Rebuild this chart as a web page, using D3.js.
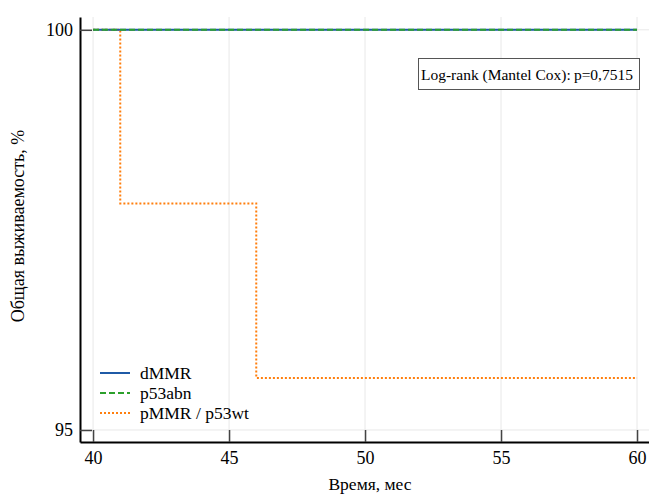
<!DOCTYPE html>
<html><head><meta charset="utf-8">
<script src="https://cdn.jsdelivr.net/npm/d3@7"></script>
<style>body{margin:0;background:#fff}svg{display:block}</style>
</head><body>
<script>
const seriesNames = ["dMMR", "p53abn", "pMMR / p53wt"];
const dmmrTimes = [40, 60], dmmrSurv = [100, 100];
const p53abnTimes = [40, 60], p53abnSurv = [100, 100];
const pmmrTimes = [40, 41, 46, 60], pmmrSurv = [100, 97.83, 95.65, 95.65];
const xTicks = [40, 45, 50, 55, 60];
const yTicks = [95, 100];
const colors = ["#1f5aa6", "#2ca02c", "#ff7f0e"];
const dashes = [null, "6,3", "2,2"];

const W = 649, H = 494;
const svg = d3.select("body").append("svg").attr("width", W).attr("height", H);
const x = d3.scaleLinear().domain([39.52, 60.44]).range([80, 649]);
const y = d3.scaleLinear().domain([94.85, 100.16]).range([442, 17]);
const font = "'Liberation Serif','Times New Roman',serif";

// grid
svg.append("g").selectAll("line").data(xTicks).join("line")
  .attr("x1", d => x(d)).attr("x2", d => x(d)).attr("y1", y.range()[1]).attr("y2", 442)
  .attr("stroke", "#e8e8e8").attr("stroke-width", 1);
svg.append("g").selectAll("line").data(yTicks).join("line")
  .attr("x1", 80).attr("x2", 649).attr("y1", d => y(d)).attr("y2", d => y(d))
  .attr("stroke", "#e8e8e8").attr("stroke-width", 1);

// axes
const xAxis = svg.append("g").attr("transform", "translate(0,442)")
  .call(d3.axisBottom(x).tickValues(xTicks).tickFormat(d3.format("d")).tickSizeInner(-12).tickSizeOuter(0).tickPadding(9));
const yAxis = svg.append("g").attr("transform", "translate(80,0)")
  .call(d3.axisLeft(y).tickValues(yTicks).tickFormat(d3.format("d")).tickSizeInner(-12).tickSizeOuter(0).tickPadding(7));
[xAxis, yAxis].forEach(a => {
  a.select(".domain").attr("stroke", "#000").attr("stroke-width", 2);
  a.selectAll(".tick line").attr("stroke", "#444").attr("stroke-width", 1.5);
  a.selectAll(".tick text").attr("font-family", font).attr("font-size", 18).attr("fill", "#000");
});
xAxis.selectAll(".tick line").attr("y2", -12);

// series
const data = [
  {t: dmmrTimes, s: dmmrSurv},
  {t: p53abnTimes, s: p53abnSurv},
  {t: pmmrTimes, s: pmmrSurv}
];
const line = d3.line().x(d => x(d[0])).y(d => y(d[1])).curve(d3.curveStepAfter);
const order = [2, 0, 1];
order.forEach(i => {
  const pts = data[i].t.map((t, k) => [t, data[i].s[k]]);
  const p = svg.append("path").attr("d", line(pts)).attr("fill", "none")
    .attr("stroke", colors[i]).attr("stroke-width", 2);
  if (dashes[i]) p.attr("stroke-dasharray", dashes[i]);
});

// legend
const lg = svg.append("g");
seriesNames.forEach((n, i) => {
  const yy = 373 + i * 20;
  const l = lg.append("line").attr("x1", 100).attr("x2", 130).attr("y1", yy).attr("y2", yy)
    .attr("stroke", colors[i]).attr("stroke-width", 2);
  if (dashes[i]) l.attr("stroke-dasharray", dashes[i]);
  lg.append("text").attr("x", 140).attr("y", yy + 5.5).text(n)
    .attr("font-family", font).attr("font-size", 17.5).attr("fill", "#000");
});

// annotation
svg.append("rect").attr("x", 418.5).attr("y", 58.5).attr("width", 221).attr("height", 31)
  .attr("fill", "#fff").attr("stroke", "#555").attr("stroke-width", 1);
svg.append("text").attr("x", 527).attr("y", 79.5).attr("text-anchor", "middle")
  .attr("font-family", font).attr("font-size", 15.5).attr("fill", "#000")
  .text("Log-rank (Mantel Cox):\u2009p=0,7515");

// axis labels
svg.append("text").attr("x", 370).attr("y", 490).attr("text-anchor", "middle")
  .attr("font-family", font).attr("font-size", 17.5).text("Время, мес");
svg.append("text").attr("transform", "translate(24,226) rotate(-90)").attr("text-anchor", "middle")
  .attr("font-family", font).attr("font-size", 18).text("Общая выживаемость, %");
</script>
</body></html>
